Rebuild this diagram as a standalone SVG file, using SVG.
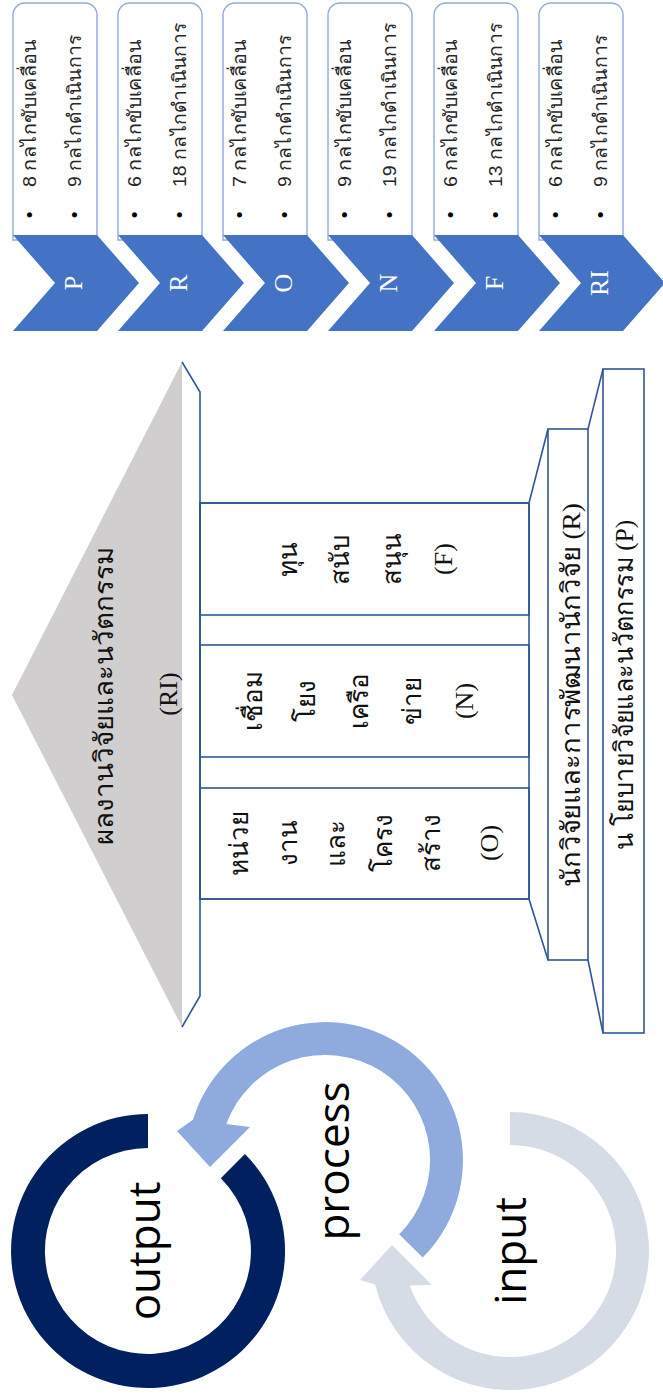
<svg xmlns="http://www.w3.org/2000/svg" width="663" height="1398" viewBox="0 0 663 1398">
<style>
.box{fill:#fff;stroke:#8FAADC;stroke-width:1.4}
.chev{fill:#4472C4}
.clab{font-family:"Liberation Serif",serif;font-size:26px;fill:#fff;text-anchor:middle}
.bt{font-family:"Liberation Sans","Noto Sans",sans-serif;font-size:19px;fill:#262626}
.bul{font-family:"Liberation Sans",sans-serif;font-size:19px;fill:#000;text-anchor:middle}
.ln{stroke:#2F5597;stroke-width:1.6;fill:none}
.tt{font-family:"Liberation Serif","Noto Serif",serif;font-size:26px;fill:#111}
.mid{text-anchor:middle}
.cyc{font-family:"Open Sans",sans-serif;font-size:44px;fill:#000;text-anchor:middle}
</style>
<rect width="663" height="1398" fill="#fff"/>

<!-- chevron list rows -->
<g id="row-P">
<path class="box" d="M13,240 V15 A12,12 0 0 1 25,3 H85 A12,12 0 0 1 97,15 V240 Z"/>
<text class="bul" transform="translate(36,215) rotate(-90)">•</text>
<text class="bt" transform="translate(36,187) rotate(-90)" textLength="147" lengthAdjust="spacingAndGlyphs">8 กลไกขับเคลื่อน</text>
<text class="bul" transform="translate(81,215) rotate(-90)">•</text>
<text class="bt" transform="translate(81,187) rotate(-90)" textLength="152" lengthAdjust="spacingAndGlyphs">9 กลไกดำเนินการ</text>
<polygon class="chev" points="13,235 97,235 139,283 97,331 13,331 55,283"/>
<text class="clab" transform="translate(82,283) rotate(-90)">P</text>
</g>
<g id="row-R">
<path class="box" d="M118,240 V15 A12,12 0 0 1 130,3 H190 A12,12 0 0 1 202,15 V240 Z"/>
<text class="bul" transform="translate(141,215) rotate(-90)">•</text>
<text class="bt" transform="translate(141,187) rotate(-90)" textLength="147" lengthAdjust="spacingAndGlyphs">6 กลไกขับเคลื่อน</text>
<text class="bul" transform="translate(186,215) rotate(-90)">•</text>
<text class="bt" transform="translate(186,187) rotate(-90)" textLength="164" lengthAdjust="spacingAndGlyphs">18 กลไกดำเนินการ</text>
<polygon class="chev" points="118,235 202,235 244,283 202,331 118,331 160,283"/>
<text class="clab" transform="translate(187,283) rotate(-90)">R</text>
</g>
<g id="row-O">
<path class="box" d="M223,240 V15 A12,12 0 0 1 235,3 H295 A12,12 0 0 1 307,15 V240 Z"/>
<text class="bul" transform="translate(246,215) rotate(-90)">•</text>
<text class="bt" transform="translate(246,187) rotate(-90)" textLength="147" lengthAdjust="spacingAndGlyphs">7 กลไกขับเคลื่อน</text>
<text class="bul" transform="translate(291,215) rotate(-90)">•</text>
<text class="bt" transform="translate(291,187) rotate(-90)" textLength="152" lengthAdjust="spacingAndGlyphs">9 กลไกดำเนินการ</text>
<polygon class="chev" points="223,235 307,235 349,283 307,331 223,331 265,283"/>
<text class="clab" transform="translate(292,283) rotate(-90)">O</text>
</g>
<g id="row-N">
<path class="box" d="M328,240 V15 A12,12 0 0 1 340,3 H400 A12,12 0 0 1 412,15 V240 Z"/>
<text class="bul" transform="translate(351,215) rotate(-90)">•</text>
<text class="bt" transform="translate(351,187) rotate(-90)" textLength="147" lengthAdjust="spacingAndGlyphs">9 กลไกขับเคลื่อน</text>
<text class="bul" transform="translate(396,215) rotate(-90)">•</text>
<text class="bt" transform="translate(396,187) rotate(-90)" textLength="164" lengthAdjust="spacingAndGlyphs">19 กลไกดำเนินการ</text>
<polygon class="chev" points="328,235 412,235 454,283 412,331 328,331 370,283"/>
<text class="clab" transform="translate(397,283) rotate(-90)">N</text>
</g>
<g id="row-F">
<path class="box" d="M434,240 V15 A12,12 0 0 1 446,3 H506 A12,12 0 0 1 518,15 V240 Z"/>
<text class="bul" transform="translate(457,215) rotate(-90)">•</text>
<text class="bt" transform="translate(457,187) rotate(-90)" textLength="147" lengthAdjust="spacingAndGlyphs">6 กลไกขับเคลื่อน</text>
<text class="bul" transform="translate(502,215) rotate(-90)">•</text>
<text class="bt" transform="translate(502,187) rotate(-90)" textLength="164" lengthAdjust="spacingAndGlyphs">13 กลไกดำเนินการ</text>
<polygon class="chev" points="434,235 518,235 560,283 518,331 434,331 476,283"/>
<text class="clab" transform="translate(503,283) rotate(-90)">F</text>
</g>
<g id="row-RI">
<path class="box" d="M539,240 V15 A12,12 0 0 1 551,3 H611 A12,12 0 0 1 623,15 V240 Z"/>
<text class="bul" transform="translate(562,215) rotate(-90)">•</text>
<text class="bt" transform="translate(562,187) rotate(-90)" textLength="147" lengthAdjust="spacingAndGlyphs">6 กลไกขับเคลื่อน</text>
<text class="bul" transform="translate(607,215) rotate(-90)">•</text>
<text class="bt" transform="translate(607,187) rotate(-90)" textLength="152" lengthAdjust="spacingAndGlyphs">9 กลไกดำเนินการ</text>
<polygon class="chev" points="539,235 623,235 665,283 623,331 539,331 581,283"/>
<text class="clab" transform="translate(608,283) rotate(-90)">RI</text>
</g>

<!-- temple -->
<g id="roof">
<polygon points="12,695 182,362 182,1027" fill="#D0CECE"/>
<polygon points="182,362 200,392 200,996 182,1027" fill="#fff"/>
<polyline class="ln" points="182,362 200,392 200,996 182,1027"/>
<text class="tt mid" transform="translate(113,696) rotate(-90)" textLength="298" lengthAdjust="spacingAndGlyphs">ผลงานวิจัยและนวัตกรรม</text>
<text class="tt mid" transform="translate(177,694) rotate(-90)">(RI)</text>
</g>
<g id="pillar-frame">
<rect class="ln" x="200" y="503" width="329" height="396" fill="#fff"/>
</g>
<g id="pillar-F">
<rect class="ln" x="200" y="503" width="329" height="112" fill="#EDEDED"/>
<text class="tt mid" transform="translate(297,559) rotate(-90)">ทุน</text>
<text class="tt mid" transform="translate(349,559) rotate(-90)">สนับ</text>
<text class="tt mid" transform="translate(401,559) rotate(-90)">สนุน</text>
<text class="tt mid" transform="translate(452,559) rotate(-90)">(F)</text>
</g>
<g id="pillar-N">
<rect class="ln" x="200" y="645" width="329" height="112" fill="#DAE3F3"/>
<text class="tt mid" transform="translate(262,701) rotate(-90)">เชื่อม</text>
<text class="tt mid" transform="translate(315,701) rotate(-90)">โยง</text>
<text class="tt mid" transform="translate(368,701) rotate(-90)">เครือ</text>
<text class="tt mid" transform="translate(421,701) rotate(-90)">ข่าย</text>
<text class="tt mid" transform="translate(473,701) rotate(-90)">(N)</text>
</g>
<g id="pillar-O">
<rect class="ln" x="200" y="788" width="329" height="111" fill="#B4C7E7"/>
<text class="tt mid" transform="translate(248,843) rotate(-90)">หน่วย</text>
<text class="tt mid" transform="translate(297,843) rotate(-90)">งาน</text>
<text class="tt mid" transform="translate(345,843) rotate(-90)">และ</text>
<text class="tt mid" transform="translate(392,843) rotate(-90)">โครง</text>
<text class="tt mid" transform="translate(440,843) rotate(-90)">สร้าง</text>
<text class="tt mid" transform="translate(498,843) rotate(-90)">(O)</text>
</g>
<g id="base-R">
<polyline class="ln" points="529,503 548,429"/>
<polyline class="ln" points="529,899 548,960"/>
<rect class="ln" x="548" y="429" width="40" height="531" fill="#DEEBF7"/>
<text class="tt" transform="translate(580,887) rotate(-90)" textLength="384" lengthAdjust="spacingAndGlyphs">นักวิจัยและการพัฒนานักวิจัย (R)</text>
</g>
<g id="base-P">
<polyline class="ln" points="588,429 603,369"/>
<polyline class="ln" points="588,960 603,1033"/>
<rect class="ln" x="603" y="369" width="41" height="664" fill="#DEEBF7"/>
<text class="tt" transform="translate(633,850) rotate(-90)" textLength="330" lengthAdjust="spacingAndGlyphs">น โยบายวิจัยและนวัตกรรม (P)</text>
</g>

<!-- cycle -->
<g id="cycle-input">
<path d="M510,1112 A139,139 0 1 1 375.1,1284.6 L360,1280 L392,1245 L432,1285 L409.8,1285.5 A106,106 0 1 0 510,1145 Z" fill="#D6DCE5"/>
<text class="cyc" transform="translate(526,1251) rotate(-90)">input</text>
</g>
<g id="cycle-process">
<path d="M422.6,1257.6 A138,138 0 1 0 193,1119.7 L177,1131 L210,1167 L250,1127 L226.3,1124.1 A105,105 0 1 1 399.2,1234.2 Z" fill="#8FAADC"/>
<text class="cyc" transform="translate(349,1161) rotate(-90)">process</text>
</g>
<g id="cycle-output">
<path d="M244.9,1154.1 A137,137 0 1 1 148,1114 L148,1148 A103,103 0 1 0 220.8,1178.2 Z" fill="#002060"/>
<text class="cyc" transform="translate(160,1251) rotate(-90)">output</text>
</g>
<g id="connectors"></g>
</svg>
